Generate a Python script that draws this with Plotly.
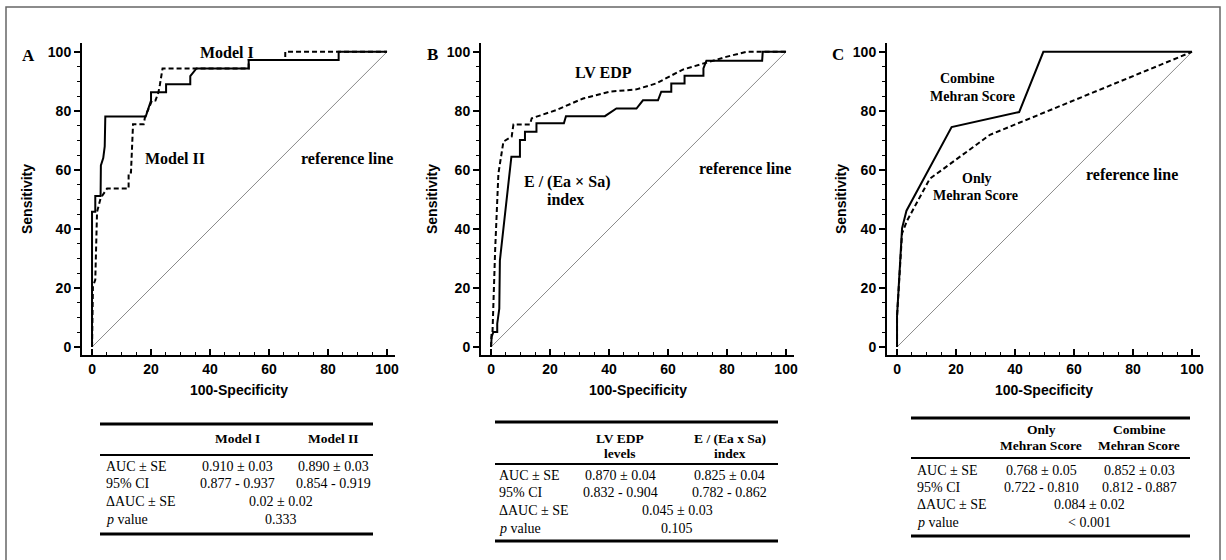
import plotly.graph_objects as go

W, H = 1226, 560

# ---------------- data: panel A ----------------
a_model1_x = [0, 0, 1.1, 1.1, 2.9, 3.0, 3.8, 4.3, 4.5, 18.2, 19.0, 20.0, 20.0, 22.2, 25.1, 25.1, 33.3, 33.3, 34.5, 35.4, 53.1, 53.1, 83.6, 83.6, 100]
a_model1_y = [0, 45.8, 45.8, 51.2, 51.2, 61.5, 64.0, 68.0, 78.1, 78.1, 80.5, 83.5, 86.3, 86.3, 86.3, 89.0, 89.0, 91.8, 93.2, 94.4, 94.4, 97.2, 97.2, 100, 100]
a_model2_x = [0, 0.3, 1.1, 1.4, 1.7, 2.9, 4.0, 5.1, 12.4, 12.4, 13.2, 13.5, 13.9, 17.5, 18.0, 19.5, 20.3, 21.5, 22.5, 23.0, 23.9, 53.1, 53.1, 65.5, 65.5, 100]
a_model2_y = [0, 20.5, 22.8, 40.0, 45.8, 50.4, 52.3, 53.7, 53.7, 59.1, 59.1, 65.9, 75.5, 75.5, 78.1, 81.5, 83.5, 83.5, 86.3, 88.8, 94.4, 94.4, 97.2, 97.2, 100, 100]

# ---------------- data: panel B ----------------
b_index_x = [0, 0.2, 0.8, 2.1, 2.1, 2.6, 2.8, 3.0, 6.9, 9.8, 9.8, 11.5, 11.5, 13.2, 15.4, 15.4, 24.7, 25.4, 38.6, 42.5, 49.3, 51.5, 56.6, 57.7, 61.1, 61.1, 65.6, 65.6, 72.0, 72.0, 73.0, 91.9, 92.1, 100]
b_index_y = [0, 3.4, 5.1, 5.1, 7.9, 13.0, 13.0, 29.3, 64.5, 64.5, 70.1, 70.1, 72.9, 72.9, 72.9, 75.8, 75.8, 78.2, 78.2, 80.8, 80.8, 83.6, 83.6, 86.5, 86.5, 89.3, 89.3, 91.9, 91.9, 94.4, 97.0, 97.0, 100, 100]
b_lvedp_x = [0, 0.2, 0.5, 1.4, 2.5, 4.2, 7.0, 7.6, 13.2, 13.8, 22.2, 31.2, 40.2, 49.3, 56.0, 65.0, 71.8, 79.7, 86.5, 100]
b_lvedp_y = [0, 5.1, 5.1, 33.0, 58.8, 69.6, 71.3, 75.4, 75.4, 77.5, 80.3, 84.2, 86.5, 87.3, 89.3, 94.0, 96.0, 98.3, 100, 100]

# ---------------- data: panel C ----------------
c_combine_x = [0, 0, 1.7, 3.2, 18.5, 41.4, 49.6, 100]
c_combine_y = [0, 10.4, 40.2, 46.2, 74.5, 79.6, 100, 100]
c_only_x = [0, 0, 1.7, 3.4, 11.1, 31.5, 100]
c_only_y = [0, 10.4, 38.5, 42.8, 57.0, 71.9, 100]

ref_x = [0, 100]
ref_y = [0, 100]

# ---------------- data: tables ----------------
row_labels = ["AUC \u00b1 SE", "95% CI", "\u0394AUC \u00b1 SE", "<i>p</i> value"]

tA_head = [["Model I"], ["Model II"]]
tA_auc = ["0.910 \u00b1 0.03", "0.890 \u00b1 0.03"]
tA_ci = ["0.877 - 0.937", "0.854 - 0.919"]
tA_dauc = "0.02 \u00b1 0.02"
tA_p = "0.333"

tB_head = [["LV EDP", "levels"], ["E / (Ea x Sa)", "index"]]
tB_auc = ["0.870 \u00b1 0.04", "0.825 \u00b1 0.04"]
tB_ci = ["0.832 - 0.904", "0.782 - 0.862"]
tB_dauc = "0.045 \u00b1 0.03"
tB_p = "0.105"

tC_head = [["Only", "Mehran Score"], ["Combine", "Mehran Score"]]
tC_auc = ["0.768 \u00b1 0.05", "0.852 \u00b1 0.03"]
tC_ci = ["0.722 - 0.810", "0.812 - 0.887"]
tC_dauc = "0.084 \u00b1 0.02"
tC_p = "< 0.001"


def fx(p):
    return p / W


def fy(p):
    return 1 - p / H


SANS = "Arial, Liberation Sans, sans-serif"
SERIF = "Times New Roman, Liberation Serif, serif"

fig = go.Figure()

panels = [
    dict(n="", left=82, letter="A", lx=28, ly=56, ylab_x=27,
         curves=[(a_model1_x, a_model1_y, "solid"), (a_model2_x, a_model2_y, "5px,3px")]),
    dict(n="2", left=481, letter="B", lx=432, ly=55, ylab_x=432,
         curves=[(b_index_x, b_index_y, "solid"), (b_lvedp_x, b_lvedp_y, "5px,3px")]),
    dict(n="3", left=887, letter="C", lx=838, ly=55, ylab_x=841,
         curves=[(c_combine_x, c_combine_y, "solid"), (c_only_x, c_only_y, "5px,3px")]),
]

annotations = []
shapes = []
layout_axes = {}


def txt(text, x, y, size, family, xanchor="center", angle=0):
    annotations.append(dict(text=text, x=fx(x), y=fy(y), xref="paper", yref="paper",
                            xanchor=xanchor, yanchor="middle", textangle=angle,
                            showarrow=False, font=dict(family=family, size=size, color="black")))


for p in panels:
    xa = "x" + p["n"]
    ya = "y" + p["n"]
    fig.add_trace(go.Scatter(x=ref_x, y=ref_y, mode="lines", xaxis=xa, yaxis=ya,
                             line=dict(color="#8a8a8a", width=1), hoverinfo="skip"))
    for cx, cy, dash in p["curves"]:
        fig.add_trace(go.Scatter(x=cx, y=cy, mode="lines", xaxis=xa, yaxis=ya,
                                 line=dict(color="black", width=2, dash=dash), hoverinfo="skip"))
    left = p["left"]
    right = left + 313
    layout_axes["xaxis" + p["n"]] = dict(
        domain=[fx(left), fx(right)], range=[-3.4, 102.7], anchor=ya, automargin=False,
        tick0=0, dtick=20, ticks="inside", ticklen=6, tickwidth=1.5, tickcolor="black",
        minor=dict(tick0=0, dtick=5, ticks="inside", ticklen=3, tickwidth=1.2, tickcolor="black"),
        showline=True, linewidth=2, linecolor="black", showgrid=False, zeroline=False,
        tickfont=dict(family=SANS, size=14, color="black", weight="bold"), fixedrange=True)
    layout_axes["yaxis" + p["n"]] = dict(
        domain=[fy(355), fy(43)], range=[-2.7, 103], anchor=xa, automargin=False,
        tick0=0, dtick=20, ticks="outside", ticklen=6, tickwidth=1.5, tickcolor="black",
        minor=dict(tick0=0, dtick=5, ticks="outside", ticklen=3, tickwidth=1.2, tickcolor="black"),
        showline=True, linewidth=2, linecolor="black", showgrid=False, zeroline=False,
        tickfont=dict(family=SANS, size=14, color="black", weight="bold"), fixedrange=True)
    txt("<b>%s</b>" % p["letter"], p["lx"], p["ly"], 17, SERIF)
    txt("<b>Sensitivity</b>", p["ylab_x"], 199, 14, SANS, angle=-90)
    txt("<b>100-Specificity</b>", (left + right) / 2, 390, 14, SANS)

# in-plot labels
inplot = [
    ("Model I", 227, 52, 16), ("Model II", 175, 158, 16), ("reference line", 347, 158, 16),
    ("LV EDP", 603, 73, 16), ("E / (Ea \u00d7 Sa)", 567, 182, 16), ("index", 565, 199, 16),
    ("reference line", 745, 168, 16),
    ("Combine", 967, 79, 14), ("Mehran Score", 972, 96, 14), ("Only", 977, 178, 14),
    ("Mehran Score", 975, 195, 14), ("reference line", 1132, 174, 16),
]
for t, x, y, s in inplot:
    txt("<b>%s</b>" % t, x, y, s, SERIF)


def add_table(x0, x1, top, head_y, under, rows_y, bottom, col_cx, merged_cx, label_x,
              head, auc, ci, dauc, pval):
    for yy, wdt in [(top, 3), (under, 2.2), (bottom, 3)]:
        shapes.append(dict(type="line", xref="paper", yref="paper", x0=fx(x0), x1=fx(x1),
                           y0=fy(yy), y1=fy(yy), line=dict(color="black", width=wdt)))
    for ci_, lines in enumerate(head):
        for li, t in enumerate(lines):
            txt("<b>%s</b>" % t, col_cx[ci_], head_y[li], 13.5, SERIF)
    for lbl, yy in zip(row_labels, rows_y):
        txt(lbl, label_x, yy, 14, SERIF, xanchor="left")
    for vals, yy in [(auc, rows_y[0]), (ci, rows_y[1])]:
        for ci_, v in enumerate(vals):
            txt(v, col_cx[ci_], yy, 14, SERIF)
    for v, yy in [(dauc, rows_y[2]), (pval, rows_y[3])]:
        txt(v, merged_cx, yy, 14, SERIF)


add_table(100, 373, 424, [438], 455, [466, 483, 501, 519], 534, [237, 333], 281, 104,
          tA_head, tA_auc, tA_ci, tA_dauc, tA_p)
add_table(495, 778, 422, [438, 453], 464, [475, 492, 510, 528], 541, [620, 730], 677, 497,
          tB_head, tB_auc, tB_ci, tB_dauc, tB_p)
add_table(911, 1190, 418, [429, 446], 458, [470, 487, 504, 522], 536, [1041, 1139], 1089, 915,
          tC_head, tC_auc, tC_ci, tC_dauc, tC_p)

# outer frame
shapes.append(dict(type="rect", xref="paper", yref="paper", x0=fx(6), x1=fx(1220),
                   y0=fy(566), y1=fy(7), line=dict(color="#666666", width=1.5)))

fig.update_layout(width=W, height=H, margin=dict(l=0, r=0, t=0, b=0),
                  paper_bgcolor="white", plot_bgcolor="white", showlegend=False,
                  annotations=annotations, shapes=shapes, hovermode=False, **layout_axes)

fig.write_html("out.html", config={"displayModeBar": False},
               post_script="document.body.style.margin='0';document.body.style.overflow='hidden';")
